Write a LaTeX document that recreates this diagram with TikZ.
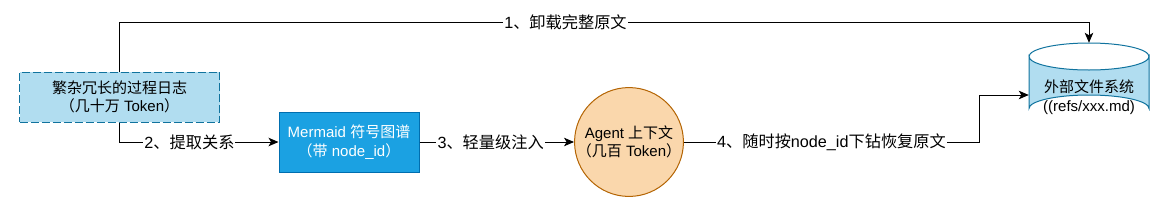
\documentclass[tikz,border=0pt]{standalone}
\usepackage{fontspec}
\setmainfont{Liberation Sans}
\newfontfamily\cjk{Noto Sans CJK SC}
\newcommand{\zh}[1]{{\cjk #1}}
\usetikzlibrary{arrows.meta,shapes.geometric,calc}
\definecolor{lblue}{HTML}{B1DDF0}
\definecolor{lblueb}{HTML}{10739E}
\definecolor{mblue}{HTML}{1BA1E2}
\definecolor{mblueb}{HTML}{006EAF}
\definecolor{peach}{HTML}{FAD7AC}
\definecolor{peachb}{HTML}{B46504}
\tikzset{
  txt/.style={font=\fontsize{15}{18.7}\selectfont, align=center, inner sep=0pt},
  logbox/.style={txt, rectangle, draw=lblueb, fill=lblue, line width=1pt, dash pattern=on 8pt off 3pt, minimum width=200pt, minimum height=50pt},
  merbox/.style={txt, rectangle, draw=mblueb, fill=mblue, text=white, line width=1pt, minimum width=140pt, minimum height=60pt},
  ctxcirc/.style={txt, circle, draw=peachb, fill=peach, line width=1pt, minimum size=100pt},
  fsbox/.style={txt, rectangle, minimum width=120pt, minimum height=79pt},
  arr/.style={draw=black, line width=1pt, -{Stealth[length=10pt,width=8.5pt,inset=2.5pt]}},
  lbl/.style={font=\fontsize{16.2}{19}\selectfont, align=center, fill=white, inner sep=1pt}
}
\begin{document}
\begin{tikzpicture}[x=1pt,y=-1pt]
\useasboundingbox (0,0) rectangle (1168,204);
% cylinder drawing
\path[fill=lblue, draw=lblueb, line width=1pt]
  (1029,56.5) -- (1029,108.5) arc[start angle=180, end angle=360, x radius=60, y radius=13.5]
  -- (1149,56.5) arc[start angle=0, end angle=180, x radius=60, y radius=13.5] -- cycle;
\draw[draw=lblueb, line width=1pt] (1029,56.5) arc[start angle=180, end angle=360, x radius=60, y radius=13.5];
\node[fsbox] (fs) at (1089,82.5) {};
\node[txt] (fstext) at (1089,97) {\zh{外部文件系统}\\((refs/xxx.md)};
% nodes
\node[logbox] (log) at (119.5,97) {\zh{繁杂冗长的过程日志}\\\zh{（几十万} Token\zh{）}};
\node[merbox] (mer) at (349,142) {Mermaid \zh{符号图谱}\\\zh{（带} node\_id\zh{）}};
\node[ctxcirc] (agent) at (629,142) {Agent \zh{上下文}\\\zh{（几百} Token\zh{）}};
\coordinate (fsin) at ($(fs.west)+(0,12.5)$);
% edges
\draw[arr] (log.north) -- (log.north |- 0,22) -- node[lbl, pos=0.46] {1\zh{、卸载完整原文}} (fs.north |- 0,22) -- (fs.north);
\draw[arr] (log.south) -- (log.south |- mer.west) -- node[lbl, pos=0.44] {2\zh{、提取关系}} (mer.west);
\draw[arr] (mer.east) -- node[lbl, pos=0.46] {3\zh{、轻量级注入}} (agent.west);
\draw[arr] (agent.east) -- node[lbl, midway] {4\zh{、随时按}node\_id\zh{下钻恢复原文}} (979,142) |- (fsin);
\end{tikzpicture}
\end{document}
